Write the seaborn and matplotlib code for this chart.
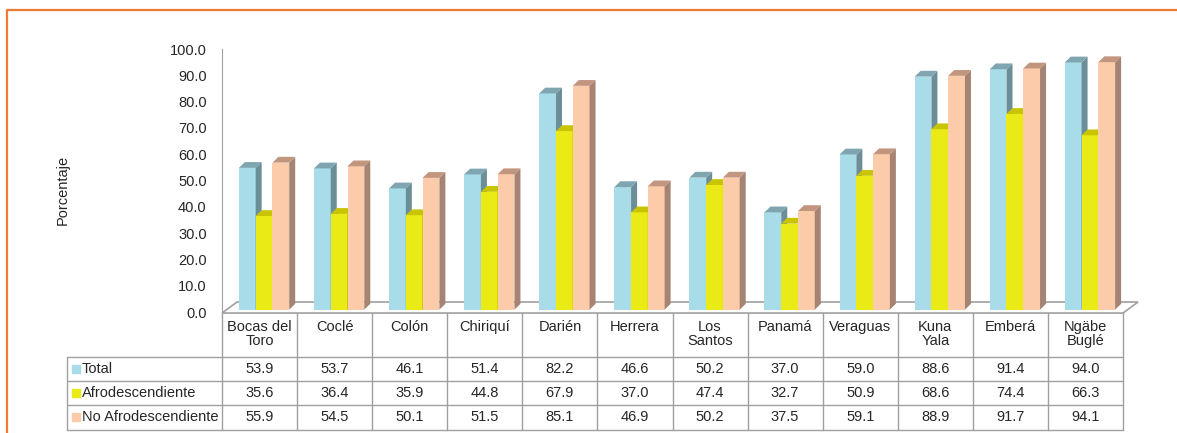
import matplotlib
matplotlib.use("Agg")
import matplotlib.pyplot as plt
from matplotlib.patches import Polygon
from matplotlib.lines import Line2D
import seaborn as sns
import pandas as pd

regiones = ["Bocas del\nToro", "Coclé", "Colón", "Chiriquí", "Darién", "Herrera",
            "Los\nSantos", "Panamá", "Veraguas", "Kuna\nYala", "Emberá", "Ngäbe\nBuglé"]
series = ["Total", "Afrodescendiente", "No Afrodescendiente"]
total = [53.9, 53.7, 46.1, 51.4, 82.2, 46.6, 50.2, 37.0, 59.0, 88.6, 91.4, 94.0]
afro = [35.6, 36.4, 35.9, 44.8, 67.9, 37.0, 47.4, 32.7, 50.9, 68.6, 74.4, 66.3]
no_afro = [55.9, 54.5, 50.1, 51.5, 85.1, 46.9, 50.2, 37.5, 59.1, 88.9, 91.7, 94.1]

front = ["#A8DCE8", "#EAEA16", "#FCCBAA"]
side = ["#6C8E98", "#A9A600", "#A58474"]
top = ["#7FA5B0", "#C8C400", "#C2957F"]
grey = "#A0A0A0"
txt = "#262626"


def main():
    sns.set_style("white")
    plt.rcParams["font.family"] = ["Liberation Sans", "DejaVu Sans"]

    df = pd.DataFrame({
        "region": regiones * 3,
        "serie": [s for s in series for _ in regiones],
        "valor": total + afro + no_afro,
    })

    fig = plt.figure(figsize=(11.77, 4.33), dpi=100)
    ax = fig.add_axes([222 / 1177, 121 / 433, 901 / 1177, 263 / 433])

    sns.barplot(data=df, x="region", y="valor", hue="serie", order=regiones,
                hue_order=series, palette=front, width=0.67, saturation=1,
                legend=False, ax=ax, zorder=3)

    # fake 3d: bars sit half way back on the floor, with side and top faces
    shift_x, lift = 0.06, 0.9
    dx, dy = 0.08, 2.2
    n = len(regiones)
    for i, p in enumerate(ax.patches[:3 * n]):
        k = i // n
        x, w, h = p.get_x() + shift_x, p.get_width(), p.get_height()
        p.set_x(x)
        p.set_y(lift)
        p.set_zorder(3 + k)
        p.set_edgecolor("none")
        b, t = lift, lift + h
        ax.add_patch(Polygon([(x + w, b), (x + w + dx, b + dy), (x + w + dx, t + dy), (x + w, t)],
                             closed=True, facecolor=side[k], edgecolor="none", zorder=3 + k))
        ax.add_patch(Polygon([(x, t), (x + dx, t + dy), (x + w + dx, t + dy), (x + w, t)],
                             closed=True, facecolor=top[k], edgecolor="none", zorder=3 + k))

    # floor
    fx, f0, f1 = 0.2, -0.4, 3.8
    ax.add_patch(Polygon([(-0.5, f0), (11.5, f0), (11.5 + fx, f1), (-0.5 + fx, f1)], closed=True,
                         facecolor="white", edgecolor=grey, lw=1.2, zorder=1, clip_on=False))

    ax.set_xlim(-0.5, 11.5)
    ax.set_ylim(0, 100)
    ax.set_xticks([])
    ax.set_xlabel("")
    ax.set_ylabel("")
    ax.set_yticks(range(0, 101, 10))
    ax.set_yticklabels([f"{v:.1f}" for v in range(0, 101, 10)], fontsize=10.5, color=txt)
    ax.tick_params(axis="y", length=0, pad=11)
    for s in ["top", "right", "bottom"]:
        ax.spines[s].set_visible(False)
    ax.spines["left"].set_color(grey)
    ax.patch.set_alpha(0)

    # data table
    tr = ax.get_xaxis_transform()
    row_lines = [-0.171, -0.262, -0.354, -0.449]
    row_mid = [-0.217, -0.308, -0.399]
    x_left = -2.564
    for i in range(n + 1):
        ax.add_line(Line2D([i - 0.5, i - 0.5], [-0.004, row_lines[-1]], transform=tr,
                           color=grey, lw=1, clip_on=False))
    ax.add_line(Line2D([x_left, x_left], [row_lines[0], row_lines[-1]], transform=tr,
                       color=grey, lw=1, clip_on=False))
    for yl in row_lines:
        ax.add_line(Line2D([x_left, 11.5], [yl, yl], transform=tr,
                           color=grey, lw=1, clip_on=False))

    for i, r in enumerate(regiones):
        ax.text(i, -0.03, r, transform=tr, ha="center", va="top", fontsize=10.5,
                color=txt, linespacing=1.0, clip_on=False)

    vals = [total, afro, no_afro]
    for k, s in enumerate(series):
        ym = row_mid[k]
        ax.plot([-2.445], [ym], marker="s", ms=6, color=front[k], transform=tr, clip_on=False)
        ax.text(-2.37, ym, s, transform=tr, ha="left", va="center", fontsize=10.5,
                color=txt, clip_on=False)
        for i, v in enumerate(vals[k]):
            ax.text(i, ym, f"{v:.1f}", transform=tr, ha="center", va="center",
                    fontsize=10.5, color=txt, clip_on=False)

    fig.text(63 / 1177, 1 - 190 / 433, "Porcentaje", rotation=90, ha="center", va="center",
             fontsize=10.5, color=txt)

    # orange frame
    yb = 1 - 10 / 433
    xb = 7 / 1177
    fig.add_artist(Line2D([xb, xb, 1], [0, yb, yb], transform=fig.transFigure,
                          color="#F07A32", lw=1.6))

    fig.savefig("out.png", dpi=100)


if __name__ == "__main__":
    main()
